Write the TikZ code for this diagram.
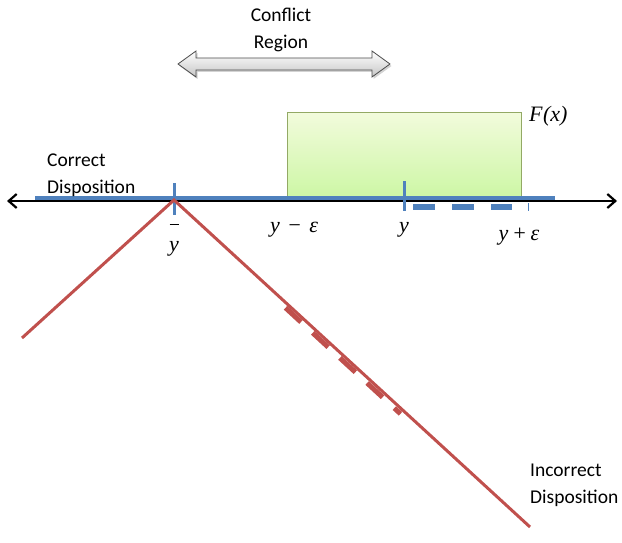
\documentclass[tikz,border=0pt]{standalone}
\usepackage{fontspec}
\setmainfont{Carlito}
\newfontfamily\mathish{Liberation Serif}
\usetikzlibrary{arrows.meta,shadows}
\definecolor{redl}{HTML}{C0504D}
\definecolor{bluel}{HTML}{4F81BD}
\definecolor{greenfill}{HTML}{E4F6B8}
\definecolor{greenfilltop}{HTML}{F2FBDC}
\definecolor{greenedge}{HTML}{9BBB59}
\tikzset{
  lbl/.style={font=\fontsize{19.5}{22}\selectfont, anchor=west, inner sep=0pt},
  mlbl/.style={font=\mathish\itshape\fontsize{22}{24}\selectfont, inner sep=0pt},
  redline/.style={draw=redl, line width=3pt},
  blueline/.style={draw=bluel, line width=3.6pt},
}
\begin{document}
\begin{tikzpicture}[x=1pt,y=-1pt]
\useasboundingbox (0,0) rectangle (622,543);
% green box
\node[draw=greenedge!70!gray, line width=0.8pt, top color=greenfilltop, bottom color=greenfill!90!green, minimum width=234pt, minimum height=84pt, inner sep=0pt, anchor=north west] (box) at (287,112) {};
\node[mlbl, anchor=west] (F) at (529,116) {F\kern0.5pt(x)};
% blue line
\coordinate (bl) at (35,198);
\coordinate (br) at (555,198);
\draw[blueline] (bl) -- (br);
% black axis
\coordinate (al) at (7,201);
\coordinate (ar) at (617,201);
\draw[line width=2.2pt, {Straight Barb[length=8pt,width=14pt]}-{Straight Barb[length=8pt,width=14pt]}] (al) -- (ar);
% ticks
\coordinate (t1a) at (174,183); \coordinate (t1b) at (174,215);
\coordinate (t2a) at (404,181); \coordinate (t2b) at (404,211);
\draw[bluel, line width=3pt] (t1a) -- (t1b);
\draw[bluel, line width=3pt] (t2a) -- (t2b);
\coordinate (d1) at (413,207); \coordinate (d2) at (512,207);
\draw[bluel, line width=5.5pt, dash pattern=on 22pt off 17pt] (d1) -- (d2);
\coordinate (t3a) at (528,203); \coordinate (t3b) at (528,211);
\draw[bluel, line width=1pt] (t3a) -- (t3b);
% red lines
\coordinate (apex) at (174,200);
\coordinate (rl) at (22,338);
\coordinate (rr) at (530,527);
\draw[redline] (rl) -- (apex) -- (rr);
\coordinate (rd1) at (285.5,307.8);
\coordinate (rd2) at (400.5,413.8);
\draw[redl, line width=5pt, dash pattern=on 21pt off 16pt] (rd1) -- (rd2);
% labels
\node[lbl] (c1) at (47,160) {Correct};
\node[lbl] (c2) at (47,188) {Disposition};
\node[lbl] (i1) at (530,470) {Incorrect};
\node[lbl] (i2) at (530,498) {Disposition};
\node[lbl, anchor=center] (k1) at (281,15) {Conflict};
\node[lbl, anchor=center] (k2) at (281,43) {Region};
\node[mlbl] (yb) at (174,240) {\vbox{\hbox to 9pt{\leaders\hrule height 0.9pt\hfill}\kern2pt\hbox to 9pt{\hss y\hss}}};
\node[mlbl] (ym) at (294,230) {y\,\,−\,\,ε};
\node[mlbl] (yy) at (404,230) {y};
\node[mlbl] (yp) at (519,237) {y\,+\,ε};
% double arrow
\path[draw=gray!60!black, line width=0.8pt, top color=white, bottom color=gray!45, drop shadow={shadow xshift=1.5pt, shadow yshift=-2pt, opacity=0.35}]
  (178,64) -- (196,51) -- (196,58) -- (372,58) -- (372,51) -- (390,64) -- (372,77) -- (372,70) -- (196,70) -- (196,77) -- cycle;
\end{tikzpicture}
\end{document}
